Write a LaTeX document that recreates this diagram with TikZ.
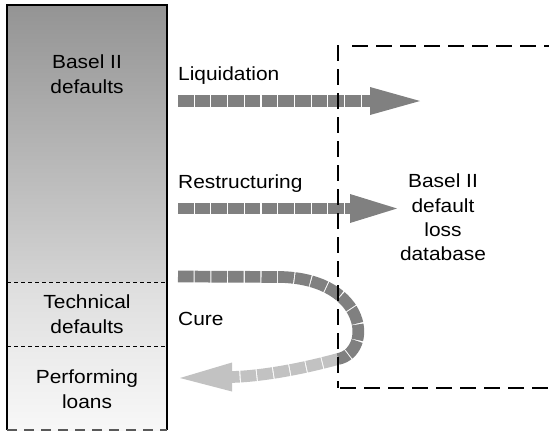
\documentclass[tikz,border=0pt]{standalone}
\usepackage{fontspec}
\setmainfont[FakeStretch=1.1]{Liberation Sans}
\usetikzlibrary{calc}
\definecolor{shaftdark}{HTML}{808080}
\definecolor{shaftlight}{HTML}{C2C2C2}
\begin{document}
\begin{tikzpicture}[x=1pt,y=-1pt,
  lbl/.style={font=\fontsize{19}{23}\selectfont, inner sep=0pt, anchor=base},
  llbl/.style={lbl, anchor=base west},
  seg/.style={line width=11.7pt, dash pattern=on 15.6pt off 1.1pt},
  divider/.style={line width=0.8pt, dash pattern=on 4pt off 3pt},
  dbline/.style={line width=1.8pt, dash pattern=on 16pt off 8pt}]
\useasboundingbox (0,0) rectangle (549,434);
% left column shading
\shade[top color=black!42, bottom color=black!17] (7,5) rectangle (167,282);
\shade[top color=black!13, bottom color=black!9] (7,282) rectangle (167,346);
\shade[top color=black!8, bottom color=black!3] (7,346) rectangle (167,430);
\draw[divider] (7,282) -- (167,282);
\draw[divider] (7,346) -- (167,346);
\draw[line width=1.2pt] (7,430) -- (7,5) -- (167,5) -- (167,430);
\draw[line width=2pt, black!65, dash pattern=on 10pt off 7pt] (7,430) -- (167,430);
% coordinates
\coordinate (l0) at (178,101);
\coordinate (l1) at (370,101);
\coordinate (l2) at (420,101);
\coordinate (r0) at (178,208.5);
\coordinate (r1) at (350,208.5);
\coordinate (r2) at (397,208.5);
\coordinate (c0) at (178,276.5);
\coordinate (c1) at (282,277);
\coordinate (c2) at (338,359);
\coordinate (c3) at (232,377);
\coordinate (c4) at (180,378);
% Liquidation arrow
\draw[seg, shaftdark] (l0) -- (l1);
\fill[shaftdark] ($(l1)+(0,-14)$) -- (l2) -- ($(l1)+(0,14)$) -- cycle;
% Restructuring arrow
\draw[seg, shaftdark] (r0) -- (r1);
\fill[shaftdark] ($(r1)+(0,-14.5)$) -- (r2) -- ($(r1)+(0,14.5)$) -- cycle;
% Cure arrow
\draw[seg, shaftdark] (c0) -- (c1) .. controls (368,280) and (373,352) .. (c2);
\draw[seg, shaftlight] (c2) .. controls (305,368) and (265,376) .. (c3);
\fill[shaftlight] ($(c3)+(0,-14.5)$) -- (c4) -- ($(c3)+(0,14.5)$) -- cycle;
% dashed database box
\draw[dbline] (338,45) -- (338,388);
\draw[dbline] (352,46) -- (549,46);
\draw[dbline] (340,388) -- (549,388);
% labels
\node[lbl] (b1) at (87,68.3) {Basel II};
\node[lbl] (b2) at (87,93.3) {defaults};
\node[lbl] (t1) at (87,308.3) {Technical};
\node[lbl] (t2) at (87,333.3) {defaults};
\node[lbl] (p1) at (87,383.3) {Performing};
\node[lbl] (p2) at (87,408.3) {loans};
\node[llbl] (liq) at (178,80.7) {Liquidation};
\node[llbl] (res) at (178,188.3) {Restructuring};
\node[llbl] (cure) at (178,325) {Cure};
\node[lbl] (d1) at (443,187.7) {Basel II};
\node[lbl] (d2) at (443,212) {default};
\node[lbl] (d3) at (443,236.5) {loss};
\node[lbl] (d4) at (443,260.5) {database};
\end{tikzpicture}
\end{document}
